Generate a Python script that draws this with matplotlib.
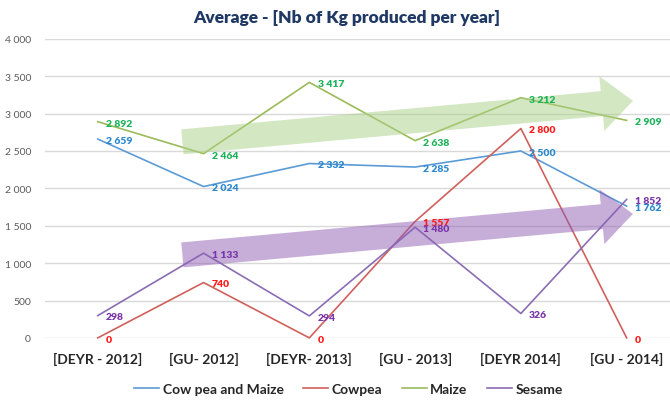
import numpy as np
import matplotlib
matplotlib.use("Agg")
import matplotlib.pyplot as plt

plt.rcParams['font.family'] = ['Lato', 'DejaVu Sans']

# seasons on the x axis
seasons = ['[DEYR - 2012]', '[GU- 2012]', '[DEYR- 2013]', '[GU - 2013]', '[DEYR 2014]', '[GU - 2014]']

# average kg produced per year, one list per crop
cowpea_maize = [2659, 2024, 2332, 2285, 2500, 1762]
cowpea = [0, 740, 0, 1557, 2800, 0]
maize = [2892, 2464, 3417, 2638, 3212, 2909]
sesame = [298, 1133, 294, 1480, 326, 1852]

series_names = ['Cow pea and Maize', 'Cowpea', 'Maize', 'Sesame']
line_colors = ['#5B9BD5', '#D0605C', '#9BBB59', '#8A6DB3']
label_colors = ['#2A88CF', '#FF1A1A', '#1DB35A', '#7A36A8']

# trend arrows (tail -> tip), in data units
green_arrow = ((0.80, 2622), (5.06, 3171))
purple_arrow = ((0.80, 1110), (5.06, 1659))

fig = plt.figure(figsize=(6.7, 4.02), dpi=100)
ax = fig.add_axes([0.067, 0.157, 0.933, 0.744])

x = np.arange(len(seasons))
all_series = [cowpea_maize, cowpea, maize, sesame]

for vals, name, lc, tc in zip(all_series, series_names, line_colors, label_colors):
    ax.plot(x, vals, color=lc, lw=1.2, label=name, zorder=3, clip_on=False)
    for xi, v in zip(x, vals):
        lbl = f"{v:,}".replace(",", " ")
        ax.annotate(lbl, (xi, v), xytext=(6, -1), textcoords='offset points',
                    ha='left', va='center', fontsize=7.5, fontweight='heavy',
                    color=tc, zorder=5)

# the two big translucent arrows
for (tail, tip), col in [(green_arrow, '#ABD189'), (purple_arrow, '#8E5EB5')]:
    ax.annotate('', xy=tip, xytext=tail,
                arrowprops=dict(arrowstyle='simple,head_length=1.25,head_width=2.2,tail_width=1.0',
                                mutation_scale=18, color=col, alpha=0.5, lw=0,
                                shrinkA=0, shrinkB=0),
                zorder=4)

ax.set_xlim(-0.5, 5.41)
ax.set_ylim(0, 4000)
ax.set_yticks(np.arange(0, 4001, 500))
ax.set_yticklabels([f"{v:,}".replace(",", " ") for v in range(0, 4001, 500)])
ax.set_xticks(x)
ax.set_xticklabels(seasons)
ax.tick_params(axis='y', length=0, labelsize=7.5, labelcolor='#595959', pad=10)
ax.tick_params(axis='x', length=0, labelsize=10, labelcolor='#262626', pad=10)
for t in ax.get_xticklabels():
    t.set_fontweight('bold')

ax.grid(axis='y', color='#D9D9D9', lw=1)
ax.set_axisbelow(True)
for s in ax.spines.values():
    s.set_visible(False)

fig.text(0.517, 0.955, 'Average - [Nb of Kg produced per year]', ha='center', va='center',
         fontsize=12.5, fontweight='heavy', color='#1F3864')

leg = fig.legend(loc='center', bbox_to_anchor=(0.52, 0.03), ncol=4, frameon=False,
                 fontsize=10, handlelength=1.8, columnspacing=1.4, handletextpad=0.25)
for t in leg.get_texts():
    t.set_color('#262626')
    t.set_fontweight('bold')

fig.savefig('out.png', dpi=100)
